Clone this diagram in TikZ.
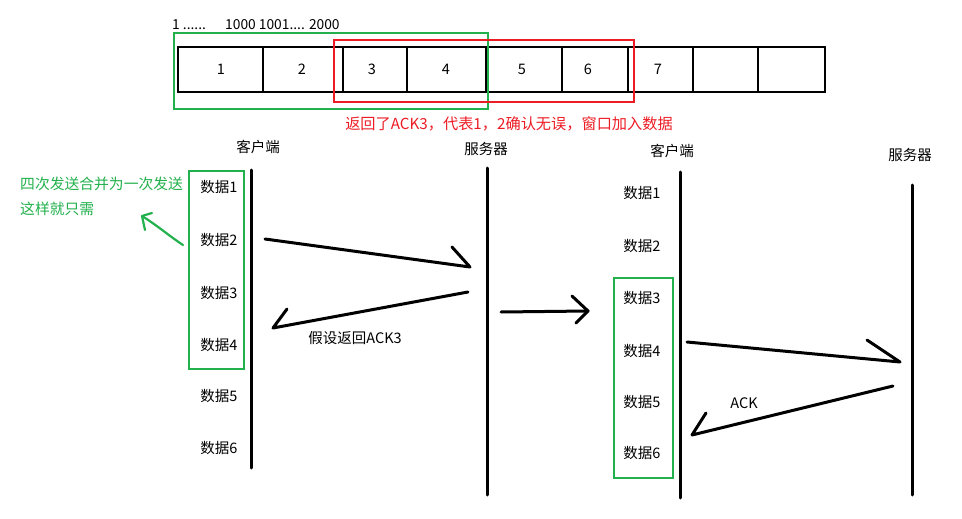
\documentclass[tikz,border=0pt]{standalone}
\usepackage{fontspec}
\setmainfont{Noto Sans CJK SC}
\definecolor{pgreen}{RGB}{34,177,76}
\definecolor{pred}{RGB}{237,28,36}
\begin{document}
\begin{tikzpicture}[x=1pt,y=-1pt,
  lbl/.style={font=\fontsize{14.5}{16}\selectfont, inner sep=0pt},
  big/.style={font=\fontsize{15.2}{17}\selectfont, inner sep=0pt},
  gtxt/.style={font=\fontsize{14.8}{17}\selectfont, inner sep=0pt},
  small/.style={font=\fontsize{13.8}{15}\selectfont, inner sep=0pt},
  ln/.style={line width=3pt, line cap=round, line join=round},
  gbox/.style={draw=pgreen, line width=2.8pt},
  rbox/.style={draw=pred, line width=2.6pt}]
\useasboundingbox[fill=white] (0,0) rectangle (962,519);

% ---- top bar ----
\node[small, anchor=west] (t1) at (172,25) {1 ......};
\node[small, anchor=west] (t2) at (225,25) {1000 1001.... 2000};
\draw[line width=2.8pt] (178,47) rectangle (825,92);
\foreach \x in {263,343,407,486,562,628,693,758}
  \draw[line width=2.8pt] (\x,47) -- (\x,92);
\foreach \x/\t in {221/1,302/2,372/3,446/4,522/5,588/6,658/7}
  \node[lbl] (c\t) at (\x,69) {\t};
\draw[gbox] (174,33) rectangle (488,109);
\draw[rbox] (334,40) rectangle (634,102);
\node[big, text=pred] (redt) at (509,124) {返回了ACK3，代表1，2确认无误，窗口加入数据};

% ---- left diagram ----
\node[lbl] (cl1) at (258,147) {客户端};
\node[lbl] (sv1) at (486,149) {服务器};
\coordinate (clt) at (251,170);
\coordinate (clb) at (251,468);
\coordinate (svt) at (487,168);
\coordinate (svb) at (487,495);
\draw[ln] (clt) -- (clb);
\draw[ln] (svt) -- (svb);
\foreach \i/\y in {1/187,2/240,3/293,4/345,5/396,6/448}
  \node[lbl] (ld\i) at (219,\y) {数据\i};
\draw[gbox] (189,171) rectangle (244,369);

\coordinate (a1s) at (265,239);
\coordinate (a1t) at (470,267);
\coordinate (a1h) at (452,247);
\draw[ln] (a1s) -- (a1t) -- (a1h);
\coordinate (a2s) at (468,292);
\coordinate (a2t) at (273,328);
\coordinate (a2h) at (287,309);
\draw[ln] (a2s) -- (a2t) -- (a2h);
\node[lbl] (ack3) at (355,338) {假设返回ACK3};

\node[gtxt, text=pgreen, anchor=west] (g1) at (20,184) {四次发送合并为一次发送};
\node[gtxt, text=pgreen, anchor=west] (g2) at (20,209) {这样就只需};
\coordinate (gs) at (183,245);
\coordinate (gt) at (142,216);
\draw[pgreen, line width=2.2pt, line cap=round, line join=round]
  (gs) .. controls (172,238) and (158,226) .. (gt);
\draw[pgreen, line width=2.2pt, line cap=round, line join=round]
  (145,230) -- (gt) -- (152,213);

% middle arrow
\coordinate (ms) at (501,312);
\coordinate (mt) at (588,311);
\draw[ln] (ms) -- (mt);
\draw[ln] (572,296) -- (mt) -- (576,323);

% ---- right diagram ----
\node[lbl] (cl2) at (672,151) {客户端};
\node[lbl] (sv2) at (910,155) {服务器};
\coordinate (c2t) at (680,172);
\coordinate (c2b) at (680,498);
\coordinate (s2t) at (912,185);
\coordinate (s2b) at (912,495);
\draw[ln] (c2t) -- (c2b);
\draw[ln] (s2t) -- (s2b);
\foreach \i/\y in {1/193,2/246,3/298,4/351,5/402,6/453}
  \node[lbl] (rd\i) at (642,\y) {数据\i};
\draw[gbox] (614,278) rectangle (673,478);

\coordinate (b1s) at (687,342);
\coordinate (b1t) at (900,362);
\coordinate (b1h) at (867,340);
\draw[ln] (b1s) -- (b1t) -- (b1h);
\coordinate (b2s) at (893,386);
\coordinate (b2t) at (692,435);
\coordinate (b2h) at (706,413);
\draw[ln] (b2s) -- (b2t) -- (b2h);
\node[lbl] (ack) at (744,403) {ACK};
\end{tikzpicture}
\end{document}
